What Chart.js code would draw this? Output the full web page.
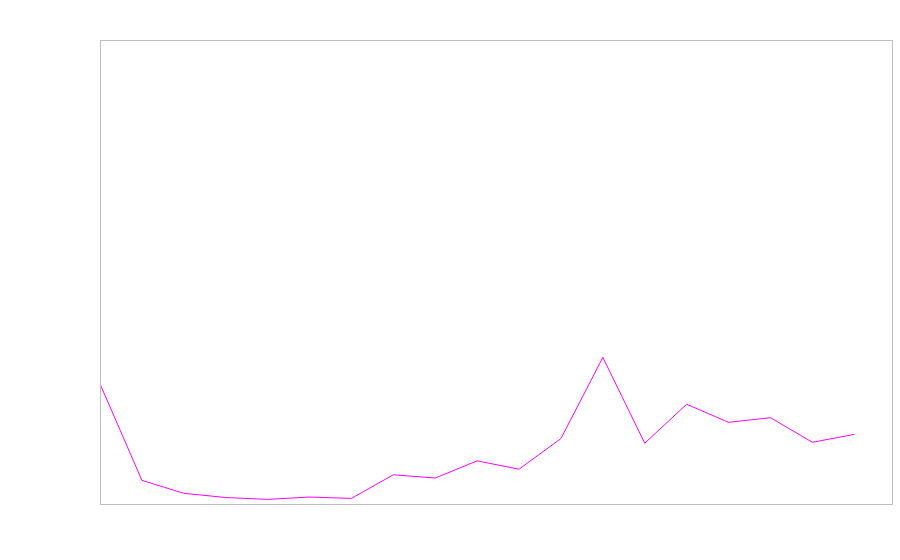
<!DOCTYPE html>
<html>
<head>
<meta charset="utf-8">
<script src="https://cdn.jsdelivr.net/npm/chart.js@4"></script>
<style>
  body { margin: 0; background: #fff; }
  #wrap { width: 900px; height: 560px; }
</style>
</head>
<body>
<div id="wrap"><canvas id="lineChart"></canvas></div>
<script>
// values (share of the y range, 0-100)
const steps = [0, 1, 2, 3, 4, 5, 6, 7, 8, 9, 10, 11, 12, 13, 14, 15, 16, 17, 18];
const values = [25.9, 5.1, 2.3, 1.4, 1.0, 1.5, 1.2, 6.3, 5.6, 9.3, 7.5, 14.1, 31.6, 13.1, 21.5, 17.6, 18.6, 13.3, 15.0];
const xRange = [0, 18.9];
const yRange = [0, 100];

// plain grey frame round the plot area
const framePlugin = {
  id: 'frame',
  afterDraw(chart) {
    const { ctx, chartArea: a } = chart;
    ctx.save();
    ctx.strokeStyle = '#bfbfbf';
    ctx.lineWidth = 1;
    ctx.strokeRect(a.left + 0.5, a.top + 0.5, a.right - a.left, a.bottom - a.top);
    ctx.restore();
  }
};

document.addEventListener('DOMContentLoaded', function() {
  const ctx = document.getElementById('lineChart');
  new Chart(ctx, {
    type: 'line',
    data: {
      datasets: [{
        data: steps.map((s, i) => ({ x: s, y: values[i] })),
        borderColor: '#ff00ff',
        borderWidth: 1,
        pointRadius: 0,
        tension: 0,
        fill: false
      }]
    },
    options: {
      responsive: true,
      maintainAspectRatio: false,
      animation: false,
      layout: { padding: { left: 100, top: 40, right: 8, bottom: 56 } },
      scales: {
        x: { type: 'linear', min: xRange[0], max: xRange[1], display: false },
        y: { min: yRange[0], max: yRange[1], display: false }
      },
      plugins: {
        legend: { display: false },
        tooltip: { enabled: false }
      }
    },
    plugins: [framePlugin]
  });
});
</script>
</body>
</html>
